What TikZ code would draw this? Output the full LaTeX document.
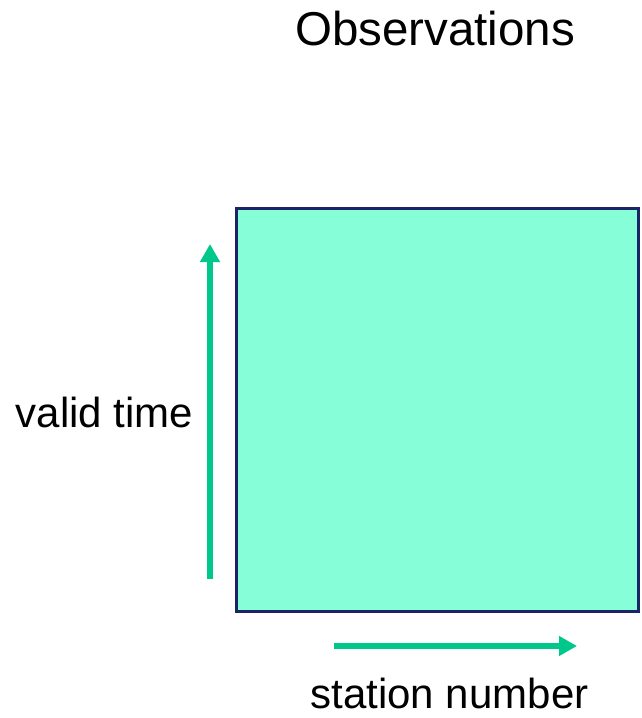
\documentclass[tikz,border=0pt]{standalone}
\usepackage{fontspec}
\setmainfont{Liberation Sans}
\usetikzlibrary{arrows.meta}
\definecolor{boxfill}{HTML}{86FFD9}
\definecolor{boxedge}{HTML}{1A2466}
\definecolor{arrgreen}{HTML}{00C88C}
\begin{document}
\begin{tikzpicture}[x=1pt,y=-1pt,
  lbl/.style={font=\fontsize{42}{50}\selectfont, inner sep=0pt, anchor=base},
  garrow/.style={draw=arrgreen, line width=6pt, -{Triangle[length=18pt,width=19pt]}}]
\useasboundingbox (0,0) rectangle (641,718);
\node[draw=boxedge, line width=2.5pt, fill=boxfill, minimum width=402pt, minimum height=403pt, inner sep=0pt] (box) at (437.5,410) {};
\node[lbl, font=\fontsize{47.5}{56}\selectfont] (title) at (435,45) {Observations};
\node[lbl] (vt) at (104.5,427) {valid time};
\node[lbl] (sn) at (449.5,708) {station number};
\coordinate (v0) at (210,579);
\coordinate (v1) at (210,244);
\coordinate (h0) at (334,646);
\coordinate (h1) at (577,646);
\draw[garrow] (v0) -- (v1);
\draw[garrow] (h0) -- (h1);
\end{tikzpicture}
\end{document}
